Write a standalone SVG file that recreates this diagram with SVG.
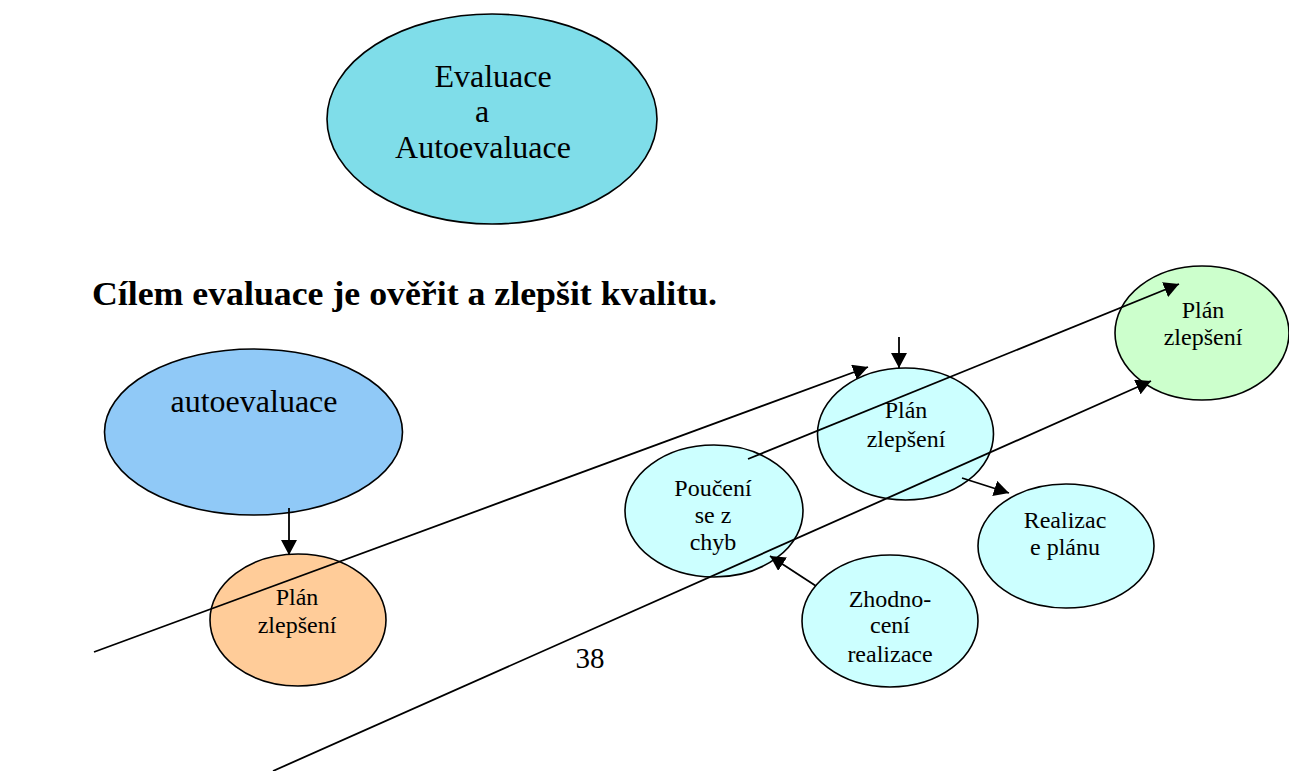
<svg xmlns="http://www.w3.org/2000/svg" width="1289" height="771" viewBox="0 0 1289 771">
<style>
.n{stroke:#000;stroke-width:1.6}
text{font-family:'Liberation Serif','Times New Roman','DejaVu Serif',serif;fill:#000}
.t{text-anchor:middle}
.big{font-size:32px}
.sm{font-size:24px}
.c{stroke:#000;stroke-width:1.8;fill:none;marker-end:url(#ah)}
</style>
<defs>
<marker id="ah" markerUnits="userSpaceOnUse" markerWidth="16" markerHeight="16" refX="15" refY="8" orient="auto">
<path d="M0,0 L15,8 L0,16 Z" fill="#000"/>
</marker>
</defs>
<rect width="1289" height="771" fill="#fff"/>
<g id="title-node">
<ellipse class="n" cx="492" cy="119" rx="165" ry="105" fill="#7FDDE9"/>
<text class="t big" x="493" y="87">Evaluace</text>
<text class="t big" x="482" y="122">a</text>
<text class="t big" x="483" y="158">Autoevaluace</text>
</g>
<g id="heading">
<text x="92" y="305" font-weight="bold" font-size="34" textLength="625" lengthAdjust="spacingAndGlyphs">Cílem evaluace je ověřit a zlepšit kvalitu.</text>
</g>
<g id="autoevaluace">
<ellipse class="n" cx="253.5" cy="432" rx="149" ry="83" fill="#90C9F7"/>
<text class="t big" x="254" y="412">autoevaluace</text>
</g>
<g id="plan-orange">
<ellipse class="n" cx="298" cy="620" rx="88" ry="66" fill="#FFCC99"/>
<text class="t sm" x="297" y="605">Plán</text>
<text class="t sm" x="297" y="633">zlepšení</text>
</g>
<g id="plan-mid">
<ellipse class="n" cx="905.5" cy="434" rx="88" ry="66" fill="#CCFFFF"/>
<text class="t sm" x="906" y="418">Plán</text>
<text class="t sm" x="906" y="447">zlepšení</text>
</g>
<g id="pouceni">
<ellipse class="n" cx="714" cy="511" rx="89" ry="66" fill="#CCFFFF"/>
<text class="t sm" x="713" y="496">Poučení</text>
<text class="t sm" x="713" y="523">se z</text>
<text class="t sm" x="713" y="550">chyb</text>
</g>
<g id="realizace">
<ellipse class="n" cx="1066" cy="546" rx="88" ry="62" fill="#CCFFFF"/>
<text class="t sm" x="1065" y="528">Realizac</text>
<text class="t sm" x="1065" y="555">e plánu</text>
</g>
<g id="zhodnoceni">
<ellipse class="n" cx="890" cy="621" rx="88" ry="66" fill="#CCFFFF"/>
<text class="t sm" x="890" y="607">Zhodno-</text>
<text class="t sm" x="890" y="633">cení</text>
<text class="t sm" x="890" y="662">realizace</text>
</g>
<g id="plan-green">
<ellipse class="n" cx="1202" cy="333" rx="87" ry="67" fill="#CCFFCC"/>
<text class="t sm" x="1203" y="318">Plán</text>
<text class="t sm" x="1203" y="345">zlepšení</text>
</g>
<g id="page-number">
<text class="t" x="590" y="668" font-size="29">38</text>
</g>
<g id="connectors">
<line class="c" x1="289" y1="508" x2="289" y2="555"/>
<line class="c" x1="94" y1="652" x2="868" y2="367"/>
<line class="c" x1="273" y1="771" x2="1151" y2="381"/>
<line class="c" x1="748" y1="459" x2="1179" y2="284"/>
<line class="c" x1="899" y1="337" x2="899" y2="368"/>
<line class="c" x1="962" y1="478" x2="1009" y2="493"/>
<line class="c" x1="816" y1="586" x2="770" y2="556"/>
</g>
</svg>
